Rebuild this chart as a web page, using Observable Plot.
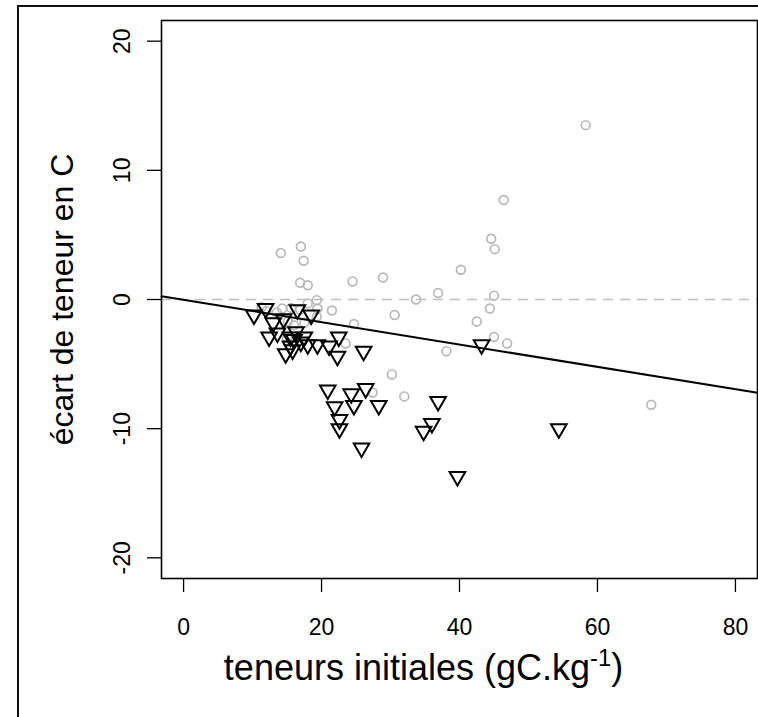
<!DOCTYPE html>
<html>
<head>
<meta charset="utf-8">
<script src="https://cdn.jsdelivr.net/npm/d3@7"></script>
<script src="https://cdn.jsdelivr.net/npm/@observablehq/plot@0.6"></script>
<style>
  html, body { margin: 0; padding: 0; background: #fff; overflow: hidden; }
  #wrap { position: relative; width: 758px; height: 717px; overflow: hidden; }
  #outer { position: absolute; left: 17px; top: 5px; width: 800px; height: 800px; border: 2px solid #111; box-sizing: border-box; }
  #chart { position: absolute; left: 0; top: 0; }
</style>
</head>
<body>
<div id="wrap"><div id="outer"></div><div id="chart"></div></div>
<script>
// Axis ticks
const xTicks = [0, 20, 40, 60, 80];
const yTicks = [-20, -10, 0, 10, 20];
const xLabel = "teneurs initiales (gC.kg-1)";
const yLabel = "écart de teneur en C";

// Grey open circles
const circleX = [14.1, 17.0, 17.4, 16.9, 18.0, 24.5, 28.9, 40.2, 46.4, 58.3, 44.6, 45.1, 36.9, 33.7, 45.0, 44.4, 42.5, 30.6, 45.0, 46.9, 38.1, 30.2, 32.0, 27.4, 67.8, 11.3, 14.3, 15.6, 18.0, 19.3, 19.4, 19.3, 16.9, 15.1, 21.5, 24.7, 23.5, 13.5, 16.0, 17.5, 15.0, 12.0];
const circleY = [3.6, 4.1, 3.0, 1.3, 1.1, 1.4, 1.7, 2.3, 7.7, 13.5, 4.7, 3.9, 0.5, 0.0, 0.3, -0.7, -1.7, -1.2, -2.9, -3.4, -4.0, -5.8, -7.5, -7.2, -8.15, -0.6, -0.7, -0.65, -0.3, -0.05, -0.7, -1.35, -0.8, -1.7, -0.85, -1.9, -3.4, -1.0, -2.0, -1.8, -3.0, -0.9];

// Black open inverted triangles
const triX = [43.2, 36.9, 36.0, 34.8, 54.4, 39.7, 28.3, 20.9, 21.9, 22.6, 22.6, 24.3, 24.7, 26.4, 25.8, 14.8, 22.3, 26.1, 10.2, 11.9, 12.4, 13.6, 15.5, 16.0, 17.5, 19.4, 21.1, 22.5, 16.5, 15.5, 18.0, 14.5, 17.0, 16.3, 15.8, 18.5, 13.0];
const triY = [-3.5, -7.9, -9.6, -10.2, -10.0, -13.7, -8.2, -7.0, -8.3, -9.3, -10.0, -7.3, -8.2, -6.9, -11.5, -4.2, -4.4, -4.0, -1.2, -0.7, -2.9, -2.6, -2.9, -3.1, -2.9, -3.5, -3.6, -2.9, -0.8, -3.6, -3.5, -1.5, -3.3, -2.5, -3.9, -1.2, -1.8];

// Regression line coefficients
const regIntercept = -0.02;
const regSlope = -0.0866;

const xDomain = [-3.2, 83.2];
const yDomain = [-21.6, 21.6];

const circles = circleX.map((x, i) => ({x, y: circleY[i]}));
const tris = triX.map((x, i) => ({x, y: triY[i]}));
const regLine = xDomain.map(x => ({x, y: regIntercept + regSlope * x}));

const font = "'Liberation Sans', Arial, Helvetica, sans-serif";

const plot = Plot.plot({
  width: 758,
  height: 717,
  marginLeft: 161,
  marginRight: 1,
  marginTop: 20,
  marginBottom: 139,
  x: {domain: xDomain, axis: null},
  y: {domain: yDomain, axis: null},
  style: {fontFamily: font, background: "transparent", overflow: "visible"},
  marks: [
    Plot.ruleY([0], {stroke: "#bebebe", strokeWidth: 1.6, strokeDasharray: "10,7"}),
    Plot.dot(circles, {x: "x", y: "y", r: 4.4, stroke: "#b8b8b8", strokeWidth: 1.7, fill: "none"}),
    Plot.dot(tris, {x: "x", y: "y", symbol: "triangle", rotate: 180, r: 5.8, stroke: "#000", strokeWidth: 2, fill: "none"}),
    Plot.line(regLine, {x: "x", y: "y", stroke: "#000", strokeWidth: 2}),
    Plot.frame({stroke: "#000", strokeWidth: 1.6}),
    Plot.axisX(xTicks, {tickSize: 14, tickPadding: 26, fontSize: 23, stroke: "#000", strokeWidth: 1.3, label: null, color: "#000"}),
    Plot.axisY(yTicks, {tickSize: 14, tickFormat: () => "", stroke: "#000", strokeWidth: 1.3, label: null}),
    Plot.text(yTicks, {y: d => d, text: d => String(d), frameAnchor: "left", textAnchor: "middle", lineAnchor: "middle", dx: -38.5, rotate: -90, fontSize: 23, fill: "#000"}),
    Plot.text([yLabel], {text: d => d, frameAnchor: "left", textAnchor: "middle", lineAnchor: "middle", dx: -99, rotate: -90, fontSize: 32, fill: "#000"}),
    Plot.text([xLabel], {text: d => d, frameAnchor: "bottom", textAnchor: "middle", dy: 101, dx: -36, fontSize: 36, fill: "#000"})
  ]
});

document.getElementById("chart").appendChild(plot);

// Render the "-1" in the x-axis title as a superscript
d3.select(plot).selectAll("text").each(function() {
  if (this.textContent === xLabel) {
    const t = d3.select(this);
    t.text(null);
    t.append("tspan").text("teneurs initiales (gC.kg");
    t.append("tspan").attr("font-size", "0.66em").attr("dy", "-0.55em").text("-1");
    t.append("tspan").attr("dy", "0.36em").text(")");
  }
});
</script>
</body>
</html>
